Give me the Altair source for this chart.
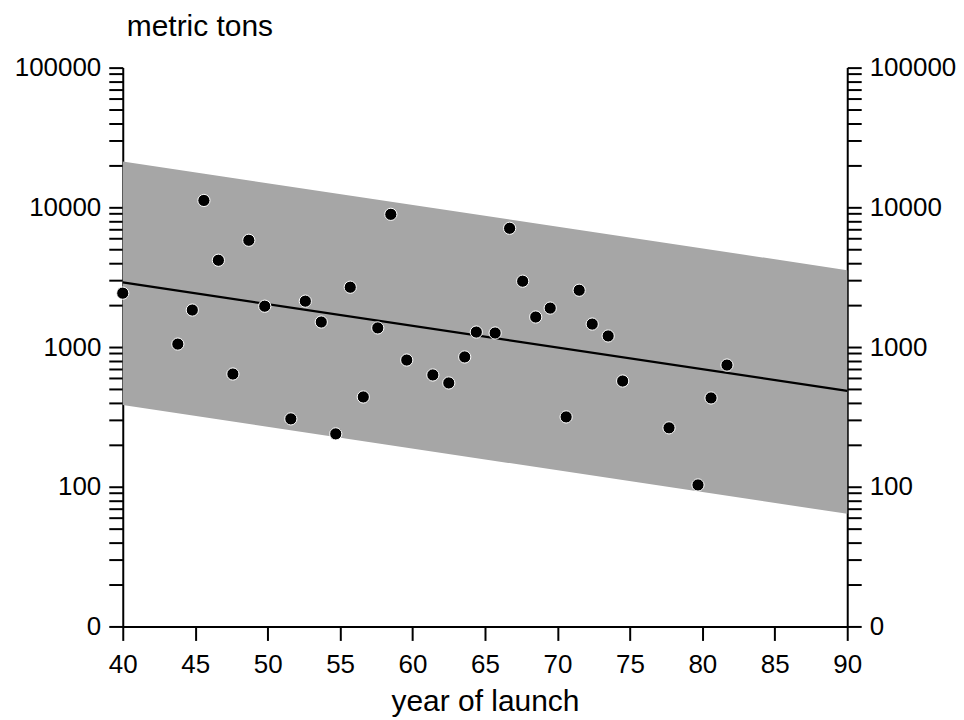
import altair as alt
import pandas as pd

# launch year and mass (metric tons)
years = [40.0, 43.8, 44.8, 45.6, 46.6, 47.6, 48.7, 49.8, 51.6, 52.6, 53.7, 54.7,
         55.7, 56.6, 57.6, 58.5, 59.6, 61.4, 62.5, 63.6, 64.4, 65.7, 66.7, 67.6,
         68.5, 69.5, 70.6, 71.5, 72.4, 73.5, 74.5, 77.7, 79.7, 80.6, 81.7]
tons = [2430, 1050, 1840, 11200, 4180, 641, 5810, 1960, 306, 2130, 1510, 239,
        2680, 439, 1370, 8910, 807, 631, 553, 849, 1280, 1260, 7080, 2960,
        1640, 1900, 316, 2550, 1460, 1200, 571, 264, 103, 432, 743]

# regression line and band
line_years = [40, 90]
line_tons = [2900, 485]
band_years = [40, 90]
band_upper = [21300, 3550]
band_lower = [385, 64]

# axis ticks
x_ticks = [40, 45, 50, 55, 60, 65, 70, 75, 80, 85, 90]
y_ticks = [10, 20, 30, 40, 50, 60, 70, 80, 90,
           100, 200, 300, 400, 500, 600, 700, 800, 900,
           1000, 2000, 3000, 4000, 5000, 6000, 7000, 8000, 9000,
           10000, 20000, 30000, 40000, 50000, 60000, 70000, 80000, 90000,
           100000]

pts = pd.DataFrame({"year": years, "tons": tons})
line_df = pd.DataFrame({"year": line_years, "tons": line_tons})
band_df = pd.DataFrame({"year": band_years, "upper": band_upper, "lower": band_lower})

FONT = "Liberation Sans"
FS = 26
TFS = 30

x_scale = alt.Scale(domain=[40, 90], nice=False, zero=False)
y_scale = alt.Scale(type="log", domain=[10, 100000], nice=False)

x_axis = alt.Axis(values=x_ticks, title="year of launch", grid=False,
                  domainColor="black", domainWidth=2, tickColor="black",
                  tickWidth=2, tickSize=14, labelFontSize=FS, labelFont=FONT,
                  labelColor="black", labelPadding=11, labelFlush=False,
                  titleFont=FONT, titleFontSize=TFS, titleFontWeight="normal",
                  titleColor="black", titlePadding=9)

label_expr = ("datum.value == 10 ? '0' : ((datum.value == 100 || datum.value == 1000 || "
              "datum.value == 10000 || datum.value == 100000) ? format(datum.value, 'd') : '')")

def y_axis(orient):
    return alt.Axis(orient=orient, values=y_ticks, labelExpr=label_expr, title=None,
                    grid=False, domainColor="black", domainWidth=2,
                    tickColor="black", tickWidth=2, tickSize=14,
                    labelFontSize=FS, labelFont=FONT, labelColor="black",
                    labelPadding=8, labelOverlap=False, labelFlush=False,
                    labelBound=False)

band = alt.Chart(band_df).mark_area(color="#a6a6a6", opacity=1).encode(
    x=alt.X("year:Q", scale=x_scale, axis=x_axis),
    y=alt.Y("upper:Q", scale=y_scale, axis=y_axis("left")),
    y2="lower:Q",
)

line = alt.Chart(line_df).mark_line(color="black", strokeWidth=2.2).encode(
    x=alt.X("year:Q", scale=x_scale, axis=x_axis),
    y=alt.Y("tons:Q", scale=y_scale, axis=None),
)

points = alt.Chart(pts).mark_point(filled=True, fill="black", stroke="white",
                                   strokeWidth=1, size=150, opacity=1,
                                   shape="circle").encode(
    x=alt.X("year:Q", scale=x_scale, axis=x_axis),
    y=alt.Y("tons:Q", scale=y_scale, axis=y_axis("right")),
)

chart = alt.layer(band, line, points).resolve_axis(y="independent").properties(
    width=726, height=560,
    title=alt.TitleParams("metric tons", anchor="start", frame="group",
                          fontSize=TFS, font=FONT, fontWeight="normal",
                          color="black", dx=4, offset=13),
    padding={"left": 6, "top": 3, "right": 0, "bottom": 0},
).configure_view(stroke=None)

chart.save("out.html", embed_options={"renderer": "svg", "actions": False})
